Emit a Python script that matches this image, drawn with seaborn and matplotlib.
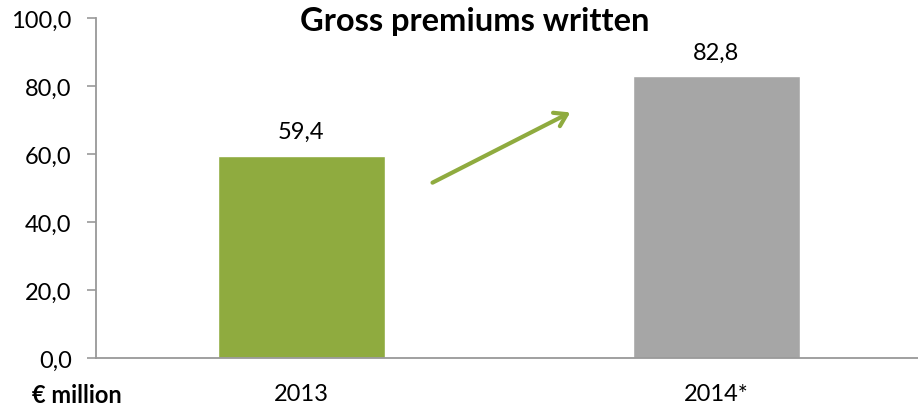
import matplotlib
matplotlib.use("Agg")
import matplotlib.pyplot as plt
import seaborn as sns
import pandas as pd

categories = ["2013", "2014*"]
values = [59.4, 82.8]
labels = ["59,4", "82,8"]
colors = ["#8fab3f", "#a6a6a6"]
yticks = [0, 20, 40, 60, 80, 100]
ytick_labels = ["0,0", "20,0", "40,0", "60,0", "80,0", "100,0"]

sns.set_theme(style="white")
plt.rcParams['font.family'] = ['Lato', 'DejaVu Sans']
plt.rcParams['text.color'] = 'black'
plt.rcParams['xtick.color'] = 'black'
plt.rcParams['ytick.color'] = 'black'

df = pd.DataFrame({"year": categories, "value": values})

fig = plt.figure(figsize=(9.18, 4.10), dpi=100)
ax = fig.add_axes([96 / 918, 51 / 410, 822 / 918, 340 / 410])
sns.barplot(data=df, x="year", y="value", hue="year", palette=colors,
            width=0.402, legend=False, ax=ax, saturation=1)

ax.set_xlim(-0.495, 1.486)
ax.set_ylim(0, 100)
ax.set_yticks(yticks)
ax.set_yticklabels(ytick_labels, fontsize=17)
ax.set_xticks(range(len(categories)))
ax.set_xticklabels(categories, fontsize=17)
ax.set_xticks([0.5], minor=True)
ax.tick_params(axis="x", which="major", length=0, pad=18)
ax.tick_params(axis="x", which="minor", length=6.5, width=1.2, color="#999999", direction="out")
ax.tick_params(axis="y", length=6.5, width=1.2, color="#999999", direction="out", left=True, pad=11)
ax.set_xlabel("")
ax.set_ylabel("")
for s in ["top", "right"]:
    ax.spines[s].set_visible(False)
for s in ["left", "bottom"]:
    ax.spines[s].set_color("#999999")
    ax.spines[s].set_linewidth(1.3)

for i, (v, lab) in enumerate(zip(values, labels)):
    ax.annotate(lab, (i, v), xytext=(0, 13), textcoords="offset points",
                ha="center", va="baseline", fontsize=17)

ax.annotate("", xy=(0.654, 72.6), xytext=(0.310, 51.2),
            arrowprops=dict(arrowstyle="->,head_length=0.7,head_width=0.45",
                            color="#8fab3f", lw=3))

fig.text(475 / 918, 1 - 31 / 410, "Gross premiums written", ha="center",
         va="baseline", fontsize=23.5, fontweight="bold")
fig.text(32 / 918, 1 - 403 / 410, "€ million", ha="left", va="baseline",
         fontsize=17, fontweight="bold")

fig.savefig("out.png", dpi=100)
